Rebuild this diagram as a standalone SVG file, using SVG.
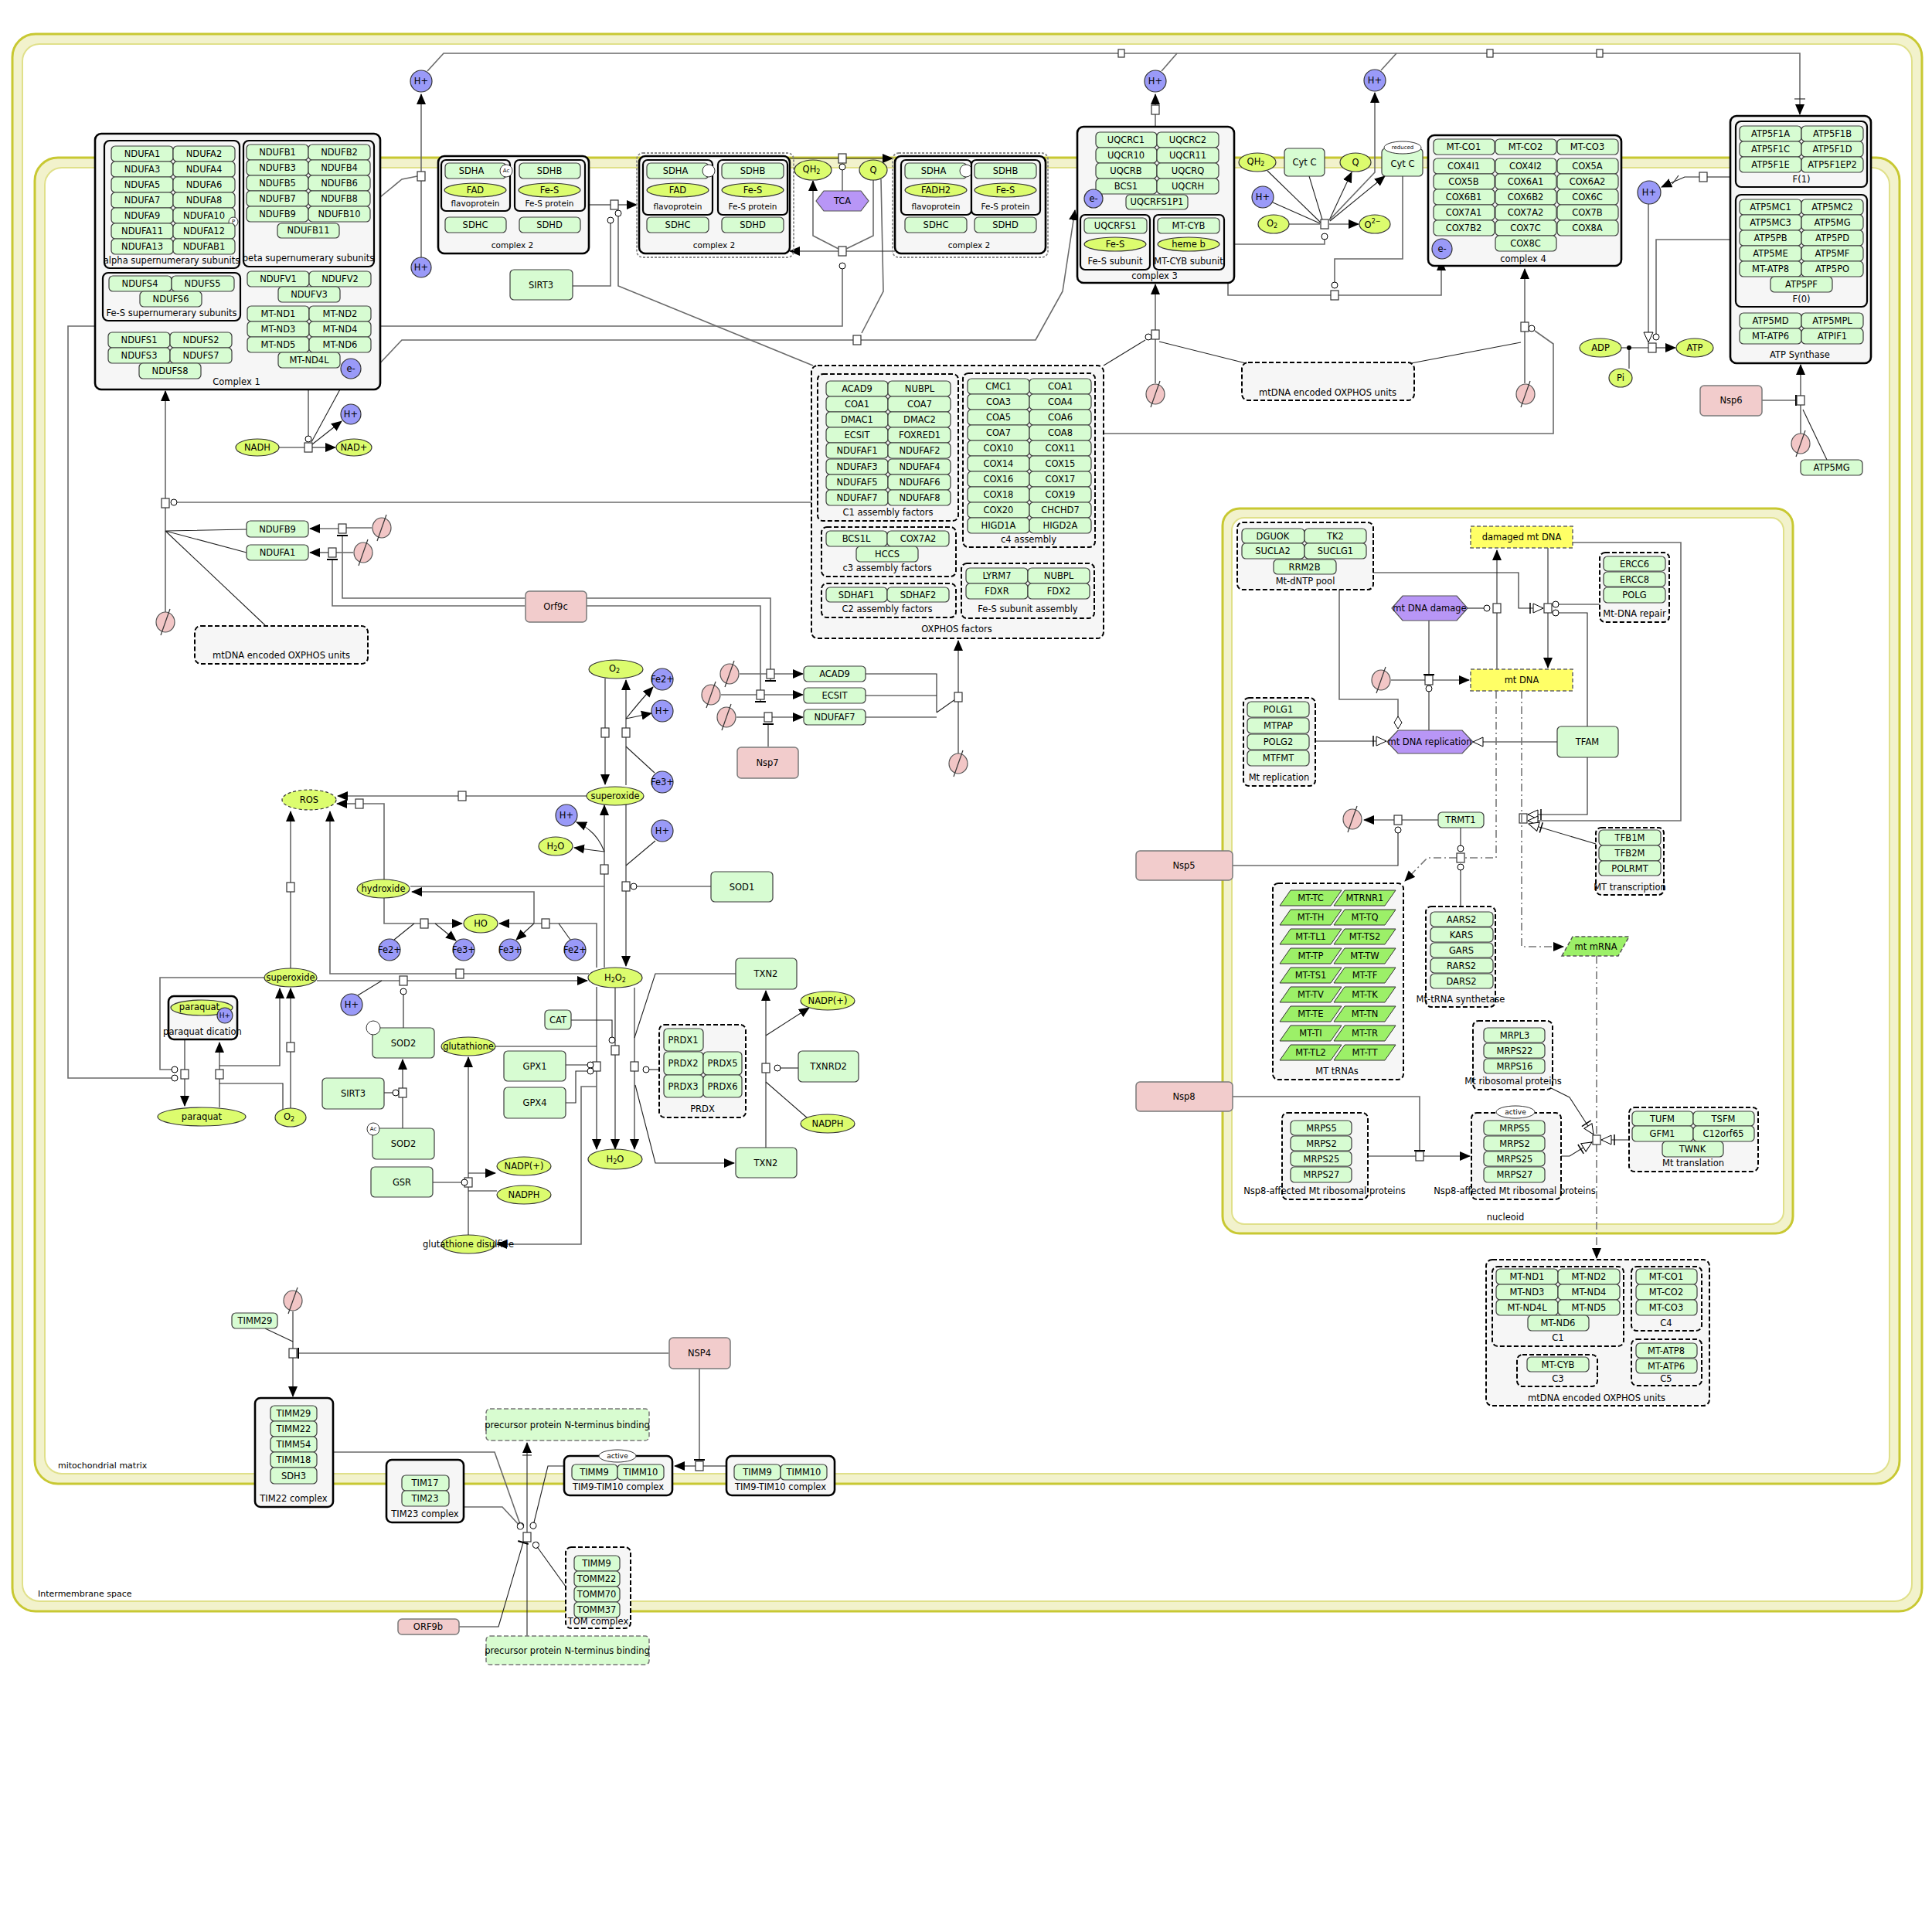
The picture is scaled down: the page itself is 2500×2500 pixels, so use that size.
<svg xmlns="http://www.w3.org/2000/svg" xmlns:xlink="http://www.w3.org/1999/xlink" width="2500" height="2500" viewBox="0 0 2500 2500">
<style>
.m{fill:#d7fcd2;stroke:#3c3c3c;stroke-width:1.2}
.c{fill:#dcfc6e;stroke:#333;stroke-width:1.2}
.i{fill:#9a9af8;stroke:#333;stroke-width:1.2}
.cx{fill:#f6f6f6;stroke:#000;stroke-width:2.6}
.cs{fill:#f6f6f6;stroke:#000;stroke-width:2.2}
.cd{fill:#f6f6f6;stroke:#000;stroke-width:2;stroke-dasharray:6 3}
.cg{fill:none;stroke:#888;stroke-width:1.8;stroke-dasharray:3 2}
.v{fill:#f2cccc;stroke:#7a7a7a;stroke-width:1.5}
.ph{fill:#b896f6;stroke:#555;stroke-width:1.2}
.na{fill:#ffff66;stroke:#666;stroke-width:1.5;stroke-dasharray:5 3}
.tr{fill:#9cf068;stroke:#333;stroke-width:1}
.pp{fill:#d8fcd0;stroke:#777;stroke-width:1.5;stroke-dasharray:6 3}
.sv{fill:#fff;stroke:#333;stroke-width:1}
.t{font-family:"DejaVu Sans","Liberation Sans",sans-serif;font-size:11.5px;text-anchor:middle;dominant-baseline:central;fill:#000}
.s{font-size:10.5px}
.xs{font-size:7px}
.k{font-family:"DejaVu Sans","Liberation Sans",sans-serif;font-size:11px;fill:#000}
.l{fill:none;stroke:#6a6a6a;stroke-width:1.6}
.lb{fill:none;stroke:#222;stroke-width:1.1}
.dd{fill:none;stroke:#777;stroke-width:1.6;stroke-dasharray:10 4 2 4}
.ps{fill:#fff;stroke:#333;stroke-width:1.2}
.cmpo{fill:#f2f2cc;stroke:#c8c832;stroke-width:3}
.cmpi{fill:#fff;stroke:#e0e08a;stroke-width:2}
</style>
<defs>
<marker id="ar" markerWidth="14" markerHeight="14" refX="13" refY="7" orient="auto" markerUnits="userSpaceOnUse"><path d="M0,1 L14,7 L0,13 z" fill="#000"/></marker>
<marker id="ci" markerWidth="10" markerHeight="10" refX="9" refY="5" orient="auto" markerUnits="userSpaceOnUse"><circle cx="5" cy="5" r="4" fill="#fff" stroke="#000" stroke-width="1"/></marker>
<marker id="ba" markerWidth="6" markerHeight="16" refX="3" refY="8" orient="auto" markerUnits="userSpaceOnUse"><path d="M3,1 V15" stroke="#000" stroke-width="2"/></marker>
<marker id="ot" markerWidth="16" markerHeight="14" refX="14" refY="7" orient="auto" markerUnits="userSpaceOnUse"><path d="M1,1 L14,7 L1,13 z" fill="#fff" stroke="#000" stroke-width="1"/></marker>
<marker id="ns" markerWidth="20" markerHeight="16" refX="19" refY="8" orient="auto" markerUnits="userSpaceOnUse"><path d="M6,2 L19,8 L6,14 z" fill="#fff" stroke="#000" stroke-width="1"/><path d="M2,1 V15" stroke="#000" stroke-width="1.5"/></marker>
<marker id="di" markerWidth="18" markerHeight="14" refX="17" refY="7" orient="auto" markerUnits="userSpaceOnUse"><path d="M1,7 L9,2 L17,7 L9,12 z" fill="#fff" stroke="#000" stroke-width="1"/></marker>
<g id="sk"><ellipse rx="12" ry="13" fill="#f2c6c6" stroke="#555" stroke-width="1.2"/><line x1="-6" y1="17" x2="6" y2="-17" stroke="#333" stroke-width="1.2"/></g>
</defs>
<rect x="0" y="0" width="2500" height="2500" fill="#fff"/>

<!-- compartments -->
<g id="intermembrane_space">
<rect class="cmpo" x="16" y="44" width="2471" height="2041" rx="30"/>
<rect class="cmpi" x="29" y="57" width="2445" height="2015" rx="22"/>
<text class="k" x="49" y="2066">Intermembrane space</text>
</g>
<g id="mitochondrial_matrix">
<rect class="cmpo" x="45" y="204" width="2413" height="1716" rx="30"/>
<rect class="cmpi" x="58" y="217" width="2387" height="1690" rx="22"/>
<text class="k" x="75" y="1900">mitochondrial matrix</text>
</g>
<g id="nucleoid">
<rect class="cmpo" x="1582" y="658" width="738" height="938" rx="22"/>
<rect class="cmpi" x="1594" y="670" width="714" height="914" rx="16"/>
<text class="t" x="1948" y="1575">nucleoid</text>
</g>

<!-- connectors -->
<g id="connectors">
<!-- top H+ transport -->
<path class="l" d="M545,333 V122" marker-end="url(#ar)"/>
<path class="l" d="M492,255 L520,232 L540,228"/>
<path class="l" d="M553,92 L574,69 H2329 V148" marker-end="url(#ar)"/>
<path class="lb" d="M2322,128 H2336"/>
<path class="l" d="M1503,92 L1523,69"/>
<path class="l" d="M1787,91 L1807,69"/>
<rect class="ps" x="1447" y="64" width="8" height="10"/>
<rect class="ps" x="1924" y="64" width="8" height="10"/>
<rect class="ps" x="2066" y="64" width="8" height="10"/>
<path class="l" d="M1495,164 V122" marker-end="url(#ar)"/>
<rect class="ps" x="1490" y="136" width="10" height="12"/>
<rect class="ps" x="540" y="222" width="10" height="12"/>
<!-- NADH -->
<path class="lb" d="M361,579 H394"/>
<path class="lb" d="M404,579 H434" marker-end="url(#ar)"/>
<path class="lb" d="M404,575 L442,545" marker-end="url(#ar)"/>
<path class="lb" d="M403,572 L447,491" marker-end="url(#ar)"/>
<path class="lb" d="M399,504 V572" marker-end="url(#ci)"/>
<rect class="ps" x="394" y="573" width="10" height="12"/>
<!-- complex 1 lines -->
<path class="l" d="M492,422 H1090 V340" marker-end="url(#ci)"/>
<path class="l" d="M467,477 H485 L520,440 H1104"/>
<path class="l" d="M1114,440 H1340 L1375,377 L1391,272" marker-end="url(#ar)"/>
<path class="l" d="M1115,431 L1143,377 L1140,232"/>
<rect class="ps" x="1104" y="434" width="10" height="12"/>
<!-- complex 2 -->
<path class="lb" d="M762,265 H790"/>
<path class="lb" d="M800,265 H824" marker-end="url(#ar)"/>
<rect class="ps" x="790" y="259" width="10" height="12"/>
<path class="l" d="M741,370 H790 V281" marker-end="url(#ci)"/>
<path class="l" d="M800,272 V370 L1052,473"/>
<circle cx="800" cy="276" r="4" fill="#fff" stroke="#000"/>
<path class="lb" d="M1022,205 H1085"/>
<path class="lb" d="M1095,205 H1155" marker-end="url(#ar)"/>
<rect class="ps" x="1085" y="199" width="10" height="12"/>
<path class="l" d="M1090,247 V212" marker-end="url(#ci)"/>
<path class="lb" d="M1158,325 H1095"/>
<path class="lb" d="M1085,325 H1022" marker-end="url(#ar)"/>
<rect class="ps" x="1085" y="319" width="10" height="12"/>
<path class="l" d="M1130,232 V305 L1095,322"/>
<path class="l" d="M1085,322 L1052,305 V234" marker-end="url(#ar)"/>
<!-- complex 3 reaction -->
<path class="lb" d="M1640,221 L1709,288"/>
<path class="lb" d="M1694,228 L1711,284"/>
<path class="lb" d="M1647,262 L1708,289"/>
<path class="lb" d="M1668,290 H1708"/>
<path class="lb" d="M1720,285 L1749,223" marker-end="url(#ar)"/>
<path class="l" d="M1720,285 L1779,223 V120" marker-end="url(#ar)"/>
<path class="lb" d="M1721,286 L1792,228" marker-end="url(#ar)"/>
<path class="lb" d="M1720,290 H1758" marker-end="url(#ar)"/>
<rect class="ps" x="1709" y="284" width="10" height="12"/>
<path class="l" d="M1597,316 H1714 V302" marker-end="url(#ci)"/>
<path class="l" d="M1425,265 L1437,274 H1589 V382 H1722"/>
<path class="l" d="M1732,382 H1865 V337" marker-end="url(#ar)"/>
<path class="l" d="M1815,228 V335 H1727 V373" marker-end="url(#ci)"/>
<rect class="ps" x="1722" y="376" width="10" height="12"/>
<!-- complex 3 / 4 assembly -->
<path class="lb" d="M1495,428 V368" marker-end="url(#ar)"/>
<path class="lb" d="M1495,439 V496"/>
<path class="lb" d="M1482,440 L1428,473"/>
<circle cx="1486" cy="436" r="4" fill="#fff" stroke="#000"/>
<path class="lb" d="M1500,442 L1612,470"/>
<rect class="ps" x="1490" y="427" width="10" height="12"/>
<path class="lb" d="M1973,418 V348" marker-end="url(#ar)"/>
<path class="lb" d="M1973,429 V496"/>
<path class="l" d="M1986,428 L2010,445 V561 H1428"/>
<circle cx="1982" cy="425" r="4" fill="#fff" stroke="#000"/>
<path class="lb" d="M1968,443 L1826,470"/>
<rect class="ps" x="1968" y="417" width="10" height="12"/>
<!-- ATP synthase -->
<path class="l" d="M2239,229 H2209"/>
<path class="lb" d="M2199,229 H2180 L2150,242" marker-end="url(#ar)"/>
<path class="lb" d="M2172,227 L2164,238"/>
<rect class="ps" x="2199" y="223" width="10" height="12"/>
<path class="l" d="M2133,264 V443" marker-end="url(#ot)"/>
<path class="l" d="M2239,310 H2143 V440" marker-end="url(#ci)"/>
<path class="l" d="M2098,450 H2133"/>
<path class="l" d="M2108,450 V477"/>
<circle cx="2108" cy="450" r="3" fill="#000"/>
<path class="lb" d="M2143,450 H2168" marker-end="url(#ar)"/>
<rect class="ps" x="2133" y="444" width="10" height="12"/>
<path class="l" d="M2280,518 H2324" marker-end="url(#ba)"/>
<path class="lb" d="M2330,561 V512"/>
<path class="lb" d="M2330,512 V472" marker-end="url(#ar)"/>
<path class="lb" d="M2364,595 L2333,530"/>
<rect class="ps" x="2325" y="512" width="10" height="12"/>
<!-- OXPHOS to complex 1 -->
<path class="lb" d="M1050,650 H221" marker-end="url(#ci)"/>
<path class="lb" d="M214,792 V657"/>
<path class="lb" d="M214,645 V506" marker-end="url(#ar)"/>
<rect class="ps" x="209" y="645" width="10" height="12"/>
<path class="lb" d="M214,687 L319,685 M214,687 L319,715 M214,687 L343,809"/>
<path class="l" d="M481,683 H448"/>
<path class="lb" d="M438,684 H401" marker-end="url(#ar)"/>
<rect class="ps" x="438" y="678" width="10" height="12"/>
<path class="l" d="M457,715 H435"/>
<path class="lb" d="M425,715 H401" marker-end="url(#ar)"/>
<rect class="ps" x="425" y="709" width="10" height="12"/>
<path class="l" d="M679,774 H443 V693" marker-end="url(#ba)"/>
<path class="l" d="M679,784 H430 V724" marker-end="url(#ba)"/>
<path class="l" d="M759,774 H997 V881" marker-end="url(#ba)"/>
<path class="l" d="M759,784 H984 V908" marker-end="url(#ba)"/>
<path class="l" d="M957,872 H992"/>
<path class="lb" d="M1002,872 H1039" marker-end="url(#ar)"/>
<rect class="ps" x="992" y="866" width="10" height="12"/>
<path class="l" d="M933,899 H979"/>
<path class="lb" d="M989,899 H1039" marker-end="url(#ar)"/>
<rect class="ps" x="979" y="893" width="10" height="12"/>
<path class="l" d="M953,928 H989"/>
<path class="lb" d="M999,928 H1039" marker-end="url(#ar)"/>
<rect class="ps" x="989" y="922" width="10" height="12"/>
<path class="l" d="M994,966 V937" marker-end="url(#ba)"/>
<path class="lb" d="M1120,872 H1212 V922 M1120,900 H1212 M1120,928 H1212 M1212,922 L1236,905"/>
<path class="lb" d="M1240,975 V908"/>
<path class="lb" d="M1240,896 V829" marker-end="url(#ar)"/>
<rect class="ps" x="1235" y="896" width="10" height="12"/>
<!-- ROS region -->
<path class="lb" d="M783,878 V942"/>
<path class="lb" d="M783,954 V1015" marker-end="url(#ar)"/>
<rect class="ps" x="778" y="942" width="10" height="12"/>
<path class="lb" d="M810,1016 V954"/>
<path class="lb" d="M810,942 V880" marker-end="url(#ar)"/>
<rect class="ps" x="805" y="942" width="10" height="12"/>
<path class="lb" d="M810,930 Q830,905 845,889" marker-end="url(#ar)"/>
<path class="lb" d="M810,930 L843,923" marker-end="url(#ar)"/>
<path class="lb" d="M847,1000 L810,966"/>
<path class="l" d="M759,1030 H603"/>
<path class="l" d="M593,1030 H437" marker-end="url(#ar)"/>
<rect class="ps" x="593" y="1024" width="10" height="12"/>
<path class="l" d="M497,1138 V1040 H470"/>
<path class="l" d="M460,1040 H436" marker-end="url(#ar)"/>
<rect class="ps" x="460" y="1034" width="10" height="12"/>
<path class="lb" d="M782,1252 V1131"/>
<path class="lb" d="M782,1119 V1042" marker-end="url(#ar)"/>
<rect class="ps" x="777" y="1119" width="10" height="12"/>
<path class="lb" d="M782,1102 Q772,1075 746,1064" marker-end="url(#ar)"/>
<path class="lb" d="M782,1102 L743,1097" marker-end="url(#ar)"/>
<path class="lb" d="M810,1040 V1141"/>
<path class="lb" d="M810,1153 V1250" marker-end="url(#ar)"/>
<rect class="ps" x="805" y="1141" width="10" height="12"/>
<path class="lb" d="M920,1147 H816" marker-end="url(#ci)"/>
<path class="lb" d="M848,1088 L810,1120"/>
<path class="l" d="M782,1147 H531"/>
<path class="l" d="M691,1195 V1154 H533" marker-end="url(#ar)"/>
<path class="l" d="M497,1162 V1195 H544"/>
<path class="l" d="M554,1195 H598" marker-end="url(#ar)"/>
<rect class="ps" x="544" y="1189" width="10" height="12"/>
<path class="lb" d="M536,1195 L510,1216"/>
<path class="lb" d="M563,1195 L590,1217" marker-end="url(#ar)"/>
<path class="l" d="M772,1252 V1195 H711"/>
<path class="l" d="M701,1195 H646" marker-end="url(#ar)"/>
<rect class="ps" x="701" y="1189" width="10" height="12"/>
<path class="lb" d="M691,1195 L668,1216" marker-end="url(#ar)"/>
<path class="lb" d="M723,1195 L738,1216"/>
<path class="l" d="M376,1253 V1154"/>
<path class="l" d="M376,1142 V1050" marker-end="url(#ar)"/>
<rect class="ps" x="371" y="1142" width="10" height="12"/>
<path class="l" d="M762,1260 H600"/>
<path class="l" d="M590,1260 H427 V1050" marker-end="url(#ar)"/>
<rect class="ps" x="590" y="1254" width="10" height="12"/>
<path class="l" d="M410,1269 H517"/>
<path class="l" d="M527,1269 H760" marker-end="url(#ar)"/>
<rect class="ps" x="517" y="1263" width="10" height="12"/>
<path class="lb" d="M522,1330 V1279" marker-end="url(#ci)"/>
<path class="lb" d="M463,1288 L494,1269"/>
<path class="lb" d="M239,1345 V1384"/>
<path class="lb" d="M239,1396 V1431" marker-end="url(#ar)"/>
<rect class="ps" x="234" y="1384" width="10" height="12"/>
<path class="l" d="M342,1265 H207 V1384 H230" marker-end="url(#ci)"/>
<path class="l" d="M123,422 H88 V1395 H230" marker-end="url(#ci)"/>
<path class="lb" d="M284,1433 V1396"/>
<path class="lb" d="M284,1384 V1349" marker-end="url(#ar)"/>
<rect class="ps" x="279" y="1384" width="10" height="12"/>
<path class="lb" d="M284,1379 H362 V1279" marker-end="url(#ar)"/>
<path class="lb" d="M376,1434 V1361"/>
<path class="lb" d="M376,1349 V1279" marker-end="url(#ar)"/>
<rect class="ps" x="371" y="1349" width="10" height="12"/>
<path class="lb" d="M284,1402 H366 V1436"/>
<path class="lb" d="M521,1460 V1420"/>
<path class="lb" d="M521,1408 V1371" marker-end="url(#ar)"/>
<rect class="ps" x="516" y="1408" width="10" height="12"/>
<path class="lb" d="M497,1414 H516" marker-end="url(#ci)"/>
<path class="lb" d="M606,1598 V1536"/>
<path class="lb" d="M606,1524 V1368" marker-end="url(#ar)"/>
<rect class="ps" x="601" y="1524" width="10" height="12"/>
<path class="lb" d="M560,1530 H605" marker-end="url(#ci)"/>
<path class="lb" d="M606,1518 H641" marker-end="url(#ar)"/>
<path class="lb" d="M643,1541 H606"/>
<path class="lb" d="M640,1354 H772"/>
<path class="lb" d="M772,1277 V1374"/>
<path class="lb" d="M772,1386 V1487" marker-end="url(#ar)"/>
<rect class="ps" x="767" y="1374" width="10" height="12"/>
<path class="lb" d="M732,1378 H768" marker-end="url(#ci)"/>
<path class="lb" d="M732,1427 H745 V1386 H768" marker-end="url(#ci)"/>
<path class="l" d="M772,1406 H752 V1610 H643" marker-end="url(#ar)"/>
<path class="lb" d="M738,1320 H792 V1350" marker-end="url(#ci)"/>
<path class="lb" d="M796,1278 V1353"/>
<path class="lb" d="M796,1365 V1487" marker-end="url(#ar)"/>
<rect class="ps" x="791" y="1353" width="10" height="12"/>
<path class="lb" d="M821,1278 V1374"/>
<path class="lb" d="M821,1386 V1487" marker-end="url(#ar)"/>
<rect class="ps" x="816" y="1374" width="10" height="12"/>
<path class="lb" d="M853,1384 H832" marker-end="url(#ci)"/>
<path class="lb" d="M952,1260 H848 L821,1343"/>
<path class="lb" d="M822,1404 L848,1505 H950" marker-end="url(#ar)"/>
<path class="lb" d="M991,1485 V1388"/>
<path class="lb" d="M991,1376 V1282" marker-end="url(#ar)"/>
<rect class="ps" x="986" y="1376" width="10" height="12"/>
<path class="lb" d="M1033,1382 H1002" marker-end="url(#ci)"/>
<path class="lb" d="M991,1340 L1047,1304" marker-end="url(#ar)"/>
<path class="lb" d="M1045,1447 L991,1400"/>
<!-- nucleoid -->
<path class="lb" d="M1899,787 H1928" marker-end="url(#ci)"/>
<path class="l" d="M1937,866 V793"/>
<path class="l" d="M1937,781 V712" marker-end="url(#ar)"/>
<rect class="ps" x="1932" y="781" width="10" height="12"/>
<path class="l" d="M2003,709 V781"/>
<path class="l" d="M2003,793 V864" marker-end="url(#ar)"/>
<rect class="ps" x="1998" y="781" width="10" height="12"/>
<path class="lb" d="M2070,782 H2009" marker-end="url(#ci)"/>
<path class="lb" d="M2054,940 V793 H2009" marker-end="url(#ci)"/>
<path class="lb" d="M1777,741 H1965 V787 H1997" marker-end="url(#ns)"/>
<path class="l" d="M1800,880 H1844"/>
<path class="lb" d="M1854,880 H1901" marker-end="url(#ar)"/>
<rect class="ps" x="1844" y="874" width="10" height="12"/>
<path class="l" d="M1849,803 V873" marker-end="url(#ba)"/>
<path class="l" d="M1849,945 V887" marker-end="url(#ci)"/>
<path class="l" d="M1733,763 V905 H1809 V943" marker-end="url(#di)"/>
<path class="lb" d="M1702,959 H1794" marker-end="url(#ns)"/>
<path class="l" d="M2015,960 H1906" marker-end="url(#ot)"/>
<path class="lb" d="M2054,980 V1054 H1977" marker-end="url(#ns)"/>
<path class="l" d="M2035,702 H2175 V1062 H1977" marker-end="url(#ot)"/>
<path class="lb" d="M2065,1092 L1978,1066" marker-end="url(#ns)"/>
<rect class="ps" x="1966" y="1053" width="10" height="12"/>
<path class="lb" d="M1861,1061 H1814"/>
<path class="lb" d="M1804,1061 H1765" marker-end="url(#ar)"/>
<rect class="ps" x="1804" y="1055" width="10" height="12"/>
<path class="lb" d="M1595,1120 H1809 V1070" marker-end="url(#ci)"/>
<path class="lb" d="M1890,1071 V1102" marker-end="url(#ci)"/>
<path class="lb" d="M1890,1172 V1118" marker-end="url(#ci)"/>
<path class="dd" d="M1936,894 V1110 H1895"/>
<path class="dd" d="M1885,1110 H1847 L1818,1140" marker-end="url(#ar)"/>
<rect class="ps" x="1885" y="1104" width="10" height="12"/>
<path class="dd" d="M1969,894 V1225 H2023" marker-end="url(#ar)"/>
<path class="dd" d="M2066,1237 V1469"/>
<path class="dd" d="M2066,1481 V1628" marker-end="url(#ar)"/>
<path class="l" d="M1595,1419 H1837 V1489" marker-end="url(#ba)"/>
<path class="lb" d="M1770,1496 H1832"/>
<path class="lb" d="M1842,1496 H1902" marker-end="url(#ar)"/>
<rect class="ps" x="1832" y="1490" width="10" height="12"/>
<path class="lb" d="M2020,1496 H2031 L2060,1478" marker-end="url(#ns)"/>
<path class="lb" d="M2007,1408 L2031,1420 L2062,1468" marker-end="url(#ns)"/>
<path class="lb" d="M2108,1475 H2072" marker-end="url(#ns)"/>
<rect class="ps" x="2061" y="1469" width="10" height="12"/>
<!-- TIM -->
<path class="l" d="M379,1697 V1745"/>
<path class="l" d="M379,1757 V1807" marker-end="url(#ar)"/>
<rect class="ps" x="374" y="1745" width="10" height="12"/>
<path class="lb" d="M343,1719 L379,1736"/>
<path class="lb" d="M865,1751 H386" marker-end="url(#ba)"/>
<path class="l" d="M905,1771 V1889" marker-end="url(#ba)"/>
<path class="lb" d="M940,1897 H910"/>
<path class="lb" d="M900,1897 H873" marker-end="url(#ar)"/>
<rect class="ps" x="900" y="1891" width="10" height="12"/>
<path class="lb" d="M682,2117 V1995"/>
<path class="lb" d="M682,1983 V1867" marker-end="url(#ar)"/>
<path class="lb" d="M676,1883 H688"/>
<rect class="ps" x="677" y="1983" width="10" height="12"/>
<path class="l" d="M431,1879 H640 L675,1978" marker-end="url(#ci)"/>
<path class="l" d="M600,1950 H650 L676,1978" marker-end="url(#ci)"/>
<path class="lb" d="M730,1897 H709 L689,1978" marker-end="url(#ci)"/>
<path class="lb" d="M732,2053 L691,1996" marker-end="url(#ci)"/>
<path class="lb" d="M594,2105 H645 L677,1996" marker-end="url(#ba)"/>
</g>

<!-- ================= Complex 1 ================= -->
<g id="complex1">
<rect class="cx" x="123" y="173" width="369" height="331" rx="8"/>
<g id="c1_alpha">
<rect class="cs" x="135" y="182" width="175" height="165" rx="7"/>
<g id="NDUFA1"><rect class="m" x="144" y="189" width="80" height="20" rx="5"/><text class="t" x="184" y="199">NDUFA1</text></g>
<g id="NDUFA2"><rect class="m" x="224" y="189" width="80" height="20" rx="5"/><text class="t" x="264" y="199">NDUFA2</text></g>
<g id="NDUFA3"><rect class="m" x="144" y="209" width="80" height="20" rx="5"/><text class="t" x="184" y="219">NDUFA3</text></g>
<g id="NDUFA4"><rect class="m" x="224" y="209" width="80" height="20" rx="5"/><text class="t" x="264" y="219">NDUFA4</text></g>
<g id="NDUFA5"><rect class="m" x="144" y="229" width="80" height="20" rx="5"/><text class="t" x="184" y="239">NDUFA5</text></g>
<g id="NDUFA6"><rect class="m" x="224" y="229" width="80" height="20" rx="5"/><text class="t" x="264" y="239">NDUFA6</text></g>
<g id="NDUFA7"><rect class="m" x="144" y="249" width="80" height="20" rx="5"/><text class="t" x="184" y="259">NDUFA7</text></g>
<g id="NDUFA8"><rect class="m" x="224" y="249" width="80" height="20" rx="5"/><text class="t" x="264" y="259">NDUFA8</text></g>
<g id="NDUFA9"><rect class="m" x="144" y="269" width="80" height="20" rx="5"/><text class="t" x="184" y="279">NDUFA9</text></g>
<g id="NDUFA10"><rect class="m" x="224" y="269" width="80" height="20" rx="5"/><text class="t" x="264" y="279">NDUFA10</text><circle class="sv" cx="302" cy="287" r="6"/><text class="t xs" x="302" y="287">P</text></g>
<g id="NDUFA11"><rect class="m" x="144" y="289" width="80" height="20" rx="5"/><text class="t" x="184" y="299">NDUFA11</text></g>
<g id="NDUFA12"><rect class="m" x="224" y="289" width="80" height="20" rx="5"/><text class="t" x="264" y="299">NDUFA12</text></g>
<g id="NDUFA13"><rect class="m" x="144" y="309" width="80" height="20" rx="5"/><text class="t" x="184" y="319">NDUFA13</text></g>
<g id="NDUFAB1"><rect class="m" x="224" y="309" width="80" height="20" rx="5"/><text class="t" x="264" y="319">NDUFAB1</text></g>
<text class="t" x="222" y="337">alpha supernumerary subunits</text>
</g>
<g id="c1_beta">
<rect class="cs" x="315" y="182" width="169" height="163" rx="7"/>
<g id="NDUFB1"><rect class="m" x="319" y="187" width="80" height="20" rx="5"/><text class="t" x="359" y="197">NDUFB1</text></g>
<g id="NDUFB2"><rect class="m" x="399" y="187" width="80" height="20" rx="5"/><text class="t" x="439" y="197">NDUFB2</text></g>
<g id="NDUFB3"><rect class="m" x="319" y="207" width="80" height="20" rx="5"/><text class="t" x="359" y="217">NDUFB3</text></g>
<g id="NDUFB4"><rect class="m" x="399" y="207" width="80" height="20" rx="5"/><text class="t" x="439" y="217">NDUFB4</text></g>
<g id="NDUFB5"><rect class="m" x="319" y="227" width="80" height="20" rx="5"/><text class="t" x="359" y="237">NDUFB5</text></g>
<g id="NDUFB6"><rect class="m" x="399" y="227" width="80" height="20" rx="5"/><text class="t" x="439" y="237">NDUFB6</text></g>
<g id="NDUFB7"><rect class="m" x="319" y="247" width="80" height="20" rx="5"/><text class="t" x="359" y="257">NDUFB7</text></g>
<g id="NDUFB8"><rect class="m" x="399" y="247" width="80" height="20" rx="5"/><text class="t" x="439" y="257">NDUFB8</text></g>
<g id="NDUFB9"><rect class="m" x="319" y="267" width="80" height="20" rx="5"/><text class="t" x="359" y="277">NDUFB9</text></g>
<g id="NDUFB10"><rect class="m" x="399" y="267" width="80" height="20" rx="5"/><text class="t" x="439" y="277">NDUFB10</text></g>
<g id="NDUFB11"><rect class="m" x="359" y="289" width="80" height="19" rx="5"/><text class="t" x="399" y="298">NDUFB11</text></g>
<text class="t" x="399" y="334">beta supernumerary subunits</text>
</g>
<g id="c1_fes">
<rect class="cs" x="133" y="353" width="178" height="62" rx="7"/>
<g id="NDUFS4"><rect class="m" x="141" y="357" width="81" height="20" rx="5"/><text class="t" x="181" y="367">NDUFS4</text></g>
<g id="NDUFS5"><rect class="m" x="222" y="357" width="81" height="20" rx="5"/><text class="t" x="262" y="367">NDUFS5</text></g>
<g id="NDUFS6"><rect class="m" x="181" y="377" width="80" height="20" rx="5"/><text class="t" x="221" y="387">NDUFS6</text></g>
<text class="t" x="222" y="405">Fe-S supernumerary subunits</text>
</g>
<g id="NDUFV1"><rect class="m" x="320" y="351" width="80" height="20" rx="5"/><text class="t" x="360" y="361">NDUFV1</text></g>
<g id="NDUFV2"><rect class="m" x="400" y="351" width="80" height="20" rx="5"/><text class="t" x="440" y="361">NDUFV2</text></g>
<g id="NDUFV3"><rect class="m" x="360" y="371" width="80" height="20" rx="5"/><text class="t" x="400" y="381">NDUFV3</text></g>
<g id="MT-ND1_c1"><rect class="m" x="320" y="396" width="80" height="20" rx="5"/><text class="t" x="360" y="406">MT-ND1</text></g>
<g id="MT-ND2_c1"><rect class="m" x="400" y="396" width="80" height="20" rx="5"/><text class="t" x="440" y="406">MT-ND2</text></g>
<g id="MT-ND3_c1"><rect class="m" x="320" y="416" width="80" height="20" rx="5"/><text class="t" x="360" y="426">MT-ND3</text></g>
<g id="MT-ND4_c1"><rect class="m" x="400" y="416" width="80" height="20" rx="5"/><text class="t" x="440" y="426">MT-ND4</text></g>
<g id="MT-ND5_c1"><rect class="m" x="320" y="436" width="80" height="20" rx="5"/><text class="t" x="360" y="446">MT-ND5</text></g>
<g id="MT-ND6_c1"><rect class="m" x="400" y="436" width="80" height="20" rx="5"/><text class="t" x="440" y="446">MT-ND6</text></g>
<g id="MT-ND4L_c1"><rect class="m" x="360" y="456" width="80" height="20" rx="5"/><text class="t" x="400" y="466">MT-ND4L</text></g>
<g id="NDUFS1"><rect class="m" x="140" y="430" width="80" height="20" rx="5"/><text class="t" x="180" y="440">NDUFS1</text></g>
<g id="NDUFS2"><rect class="m" x="220" y="430" width="80" height="20" rx="5"/><text class="t" x="260" y="440">NDUFS2</text></g>
<g id="NDUFS3"><rect class="m" x="140" y="450" width="80" height="20" rx="5"/><text class="t" x="180" y="460">NDUFS3</text></g>
<g id="NDUFS7"><rect class="m" x="220" y="450" width="80" height="20" rx="5"/><text class="t" x="260" y="460">NDUFS7</text></g>
<g id="NDUFS8"><rect class="m" x="180" y="470" width="80" height="20" rx="5"/><text class="t" x="220" y="480">NDUFS8</text></g>
<g id="e_c1"><circle class="i" cx="454" cy="477" r="13"/><text class="t" x="454" y="477">e-</text></g>
<text class="t" x="306" y="494">Complex 1</text>
</g>

<!-- ions / chemicals near complex 1 -->
<g id="Hplus_top1"><circle class="i" cx="545" cy="105" r="14"/><text class="t" x="545" y="105">H+</text></g>
<g id="Hplus_mat1"><circle class="i" cx="545" cy="346" r="13"/><text class="t" x="545" y="346">H+</text></g>
<g id="NADH"><ellipse class="c" cx="333" cy="579" rx="28" ry="11"/><text class="t" x="333" y="579">NADH</text></g>
<g id="NADplus"><ellipse class="c" cx="458" cy="579" rx="23" ry="11"/><text class="t" x="458" y="579">NAD+</text></g>
<g id="Hplus_nad"><circle class="i" cx="454" cy="536" r="13"/><text class="t" x="454" y="536">H+</text></g>

<!-- ================= Complex 2 ================= -->
<g id="complex2a">
<rect class="cx" x="567" y="202" width="195" height="126" rx="8"/>
<g id="c2a_flavo"><rect class="cs" x="571" y="207" width="89" height="66" rx="6"/>
<g id="SDHA_a"><rect class="m" x="576" y="211" width="79" height="20" rx="5"/><text class="t" x="610" y="221">SDHA</text><circle class="sv" cx="655" cy="221" r="8"/><text class="t xs" x="655" y="221">Ac</text></g>
<g id="FAD_a"><ellipse class="c" cx="615" cy="246" rx="40" ry="9"/><text class="t" x="615" y="246">FAD</text></g>
<text class="t s" x="615" y="263">flavoprotein</text></g>
<g id="c2a_fes"><rect class="cs" x="666" y="207" width="91" height="66" rx="6"/>
<g id="SDHB_a"><rect class="m" x="672" y="211" width="79" height="20" rx="5"/><text class="t" x="711" y="221">SDHB</text></g>
<g id="FeS_a"><ellipse class="c" cx="711" cy="246" rx="40" ry="9"/><text class="t" x="711" y="246">Fe-S</text></g>
<text class="t s" x="711" y="263">Fe-S protein</text></g>
<g id="SDHC_a"><rect class="m" x="576" y="281" width="79" height="20" rx="5"/><text class="t" x="615" y="291">SDHC</text></g>
<g id="SDHD_a"><rect class="m" x="672" y="281" width="79" height="20" rx="5"/><text class="t" x="711" y="291">SDHD</text></g>
<text class="t s" x="663" y="317">complex 2</text>
</g>
<g id="complex2b">
<rect class="cg" x="824" y="198" width="203" height="135" rx="8"/>
<rect class="cx" x="827" y="202" width="195" height="126" rx="8"/>
<g id="c2b_flavo"><rect class="cs" x="832" y="207" width="90" height="71" rx="6"/>
<g id="SDHA_b"><rect class="m" x="837" y="211" width="80" height="20" rx="5"/><text class="t" x="874" y="221">SDHA</text><circle class="sv" cx="917" cy="221" r="8"/></g>
<g id="FAD_b"><ellipse class="c" cx="877" cy="246" rx="40" ry="9"/><text class="t" x="877" y="246">FAD</text></g>
<text class="t s" x="877" y="267">flavoprotein</text></g>
<g id="c2b_fes"><rect class="cs" x="929" y="207" width="90" height="71" rx="6"/>
<g id="SDHB_b"><rect class="m" x="934" y="211" width="80" height="20" rx="5"/><text class="t" x="974" y="221">SDHB</text></g>
<g id="FeS_b"><ellipse class="c" cx="974" cy="246" rx="40" ry="9"/><text class="t" x="974" y="246">Fe-S</text></g>
<text class="t s" x="974" y="267">Fe-S protein</text></g>
<g id="SDHC_b"><rect class="m" x="837" y="281" width="80" height="20" rx="5"/><text class="t" x="877" y="291">SDHC</text></g>
<g id="SDHD_b"><rect class="m" x="934" y="281" width="80" height="20" rx="5"/><text class="t" x="974" y="291">SDHD</text></g>
<text class="t s" x="924" y="317">complex 2</text>
</g>
<g id="complex2c">
<rect class="cg" x="1155" y="198" width="201" height="135" rx="8"/>
<rect class="cx" x="1158" y="202" width="195" height="126" rx="8"/>
<g id="c2c_flavo"><rect class="cs" x="1166" y="207" width="91" height="71" rx="6"/>
<g id="SDHA_c"><rect class="m" x="1171" y="211" width="80" height="20" rx="5"/><text class="t" x="1208" y="221">SDHA</text><circle class="sv" cx="1250" cy="221" r="8"/></g>
<g id="FADH2_c"><ellipse class="c" cx="1211" cy="246" rx="40" ry="9"/><text class="t" x="1211" y="246">FADH2</text></g>
<text class="t s" x="1211" y="267">flavoprotein</text></g>
<g id="c2c_fes"><rect class="cs" x="1257" y="207" width="89" height="71" rx="6"/>
<g id="SDHB_c"><rect class="m" x="1261" y="211" width="80" height="20" rx="5"/><text class="t" x="1301" y="221">SDHB</text></g>
<g id="FeS_c"><ellipse class="c" cx="1301" cy="246" rx="40" ry="9"/><text class="t" x="1301" y="246">Fe-S</text></g>
<text class="t s" x="1301" y="267">Fe-S protein</text></g>
<g id="SDHC_c"><rect class="m" x="1171" y="281" width="80" height="20" rx="5"/><text class="t" x="1211" y="291">SDHC</text></g>
<g id="SDHD_c"><rect class="m" x="1261" y="281" width="80" height="20" rx="5"/><text class="t" x="1301" y="291">SDHD</text></g>
<text class="t s" x="1254" y="317">complex 2</text>
</g>
<g id="QH2_c2"><ellipse class="c" cx="1052" cy="220" rx="24" ry="13"/><text class="t" x="1050" y="219">QH<tspan dy="3" font-size="8">2</tspan></text></g>
<g id="Q_c2"><ellipse class="c" cx="1130" cy="220" rx="18" ry="13"/><text class="t" x="1130" y="220">Q</text></g>
<g id="TCA"><polygon class="ph" points="1056,260 1066,247 1114,247 1124,260 1114,273 1066,273"/><text class="t" x="1090" y="260">TCA</text></g>
<g id="SIRT3_top"><rect class="m" x="660" y="349" width="81" height="39" rx="5"/><text class="t" x="700" y="369">SIRT3</text></g>

<!-- ================= Complex 3 ================= -->
<g id="complex3">
<rect class="cx" x="1394" y="164" width="203" height="202" rx="8"/>
<g id="UQCRC1"><rect class="m" x="1418" y="171" width="79" height="20" rx="5"/><text class="t" x="1457" y="181">UQCRC1</text></g>
<g id="UQCRC2"><rect class="m" x="1497" y="171" width="80" height="20" rx="5"/><text class="t" x="1537" y="181">UQCRC2</text></g>
<g id="UQCR10"><rect class="m" x="1418" y="191" width="79" height="20" rx="5"/><text class="t" x="1457" y="201">UQCR10</text></g>
<g id="UQCR11"><rect class="m" x="1497" y="191" width="80" height="20" rx="5"/><text class="t" x="1537" y="201">UQCR11</text></g>
<g id="UQCRB"><rect class="m" x="1418" y="211" width="79" height="20" rx="5"/><text class="t" x="1457" y="221">UQCRB</text></g>
<g id="UQCRQ"><rect class="m" x="1497" y="211" width="80" height="20" rx="5"/><text class="t" x="1537" y="221">UQCRQ</text></g>
<g id="BCS1"><rect class="m" x="1418" y="231" width="79" height="20" rx="5"/><text class="t" x="1457" y="241">BCS1</text></g>
<g id="UQCRH"><rect class="m" x="1497" y="231" width="80" height="20" rx="5"/><text class="t" x="1537" y="241">UQCRH</text></g>
<g id="UQCRFS1P1"><rect class="m" x="1457" y="252" width="80" height="19" rx="5"/><text class="t" x="1497" y="261">UQCRFS1P1</text></g>
<g id="e_c3"><circle class="i" cx="1415" cy="257" r="12"/><text class="t" x="1415" y="257">e-</text></g>
<g id="c3_fes"><rect class="cs" x="1398" y="278" width="90" height="71" rx="6"/>
<g id="UQCRFS1"><rect class="m" x="1403" y="282" width="81" height="20" rx="5"/><text class="t" x="1443" y="292">UQCRFS1</text></g>
<g id="FeS_c3"><ellipse class="c" cx="1443" cy="316" rx="40" ry="9"/><text class="t" x="1443" y="316">Fe-S</text></g>
<text class="t" x="1443" y="338">Fe-S subunit</text></g>
<g id="c3_cyb"><rect class="cs" x="1493" y="278" width="91" height="71" rx="6"/>
<g id="MT-CYB_c3"><rect class="m" x="1498" y="282" width="80" height="20" rx="5"/><text class="t" x="1538" y="292">MT-CYB</text></g>
<g id="hemeb"><ellipse class="c" cx="1538" cy="316" rx="40" ry="9"/><text class="t" x="1538" y="316">heme b</text></g>
<text class="t" x="1538" y="338">MT-CYB subunit</text></g>
<text class="t" x="1494" y="357">complex 3</text>
</g>
<g id="Hplus_top3"><circle class="i" cx="1495" cy="105" r="14"/><text class="t" x="1495" y="105">H+</text></g>
<g id="Hplus_top4"><circle class="i" cx="1779" cy="104" r="14"/><text class="t" x="1779" y="104">H+</text></g>
<g id="QH2_c3"><ellipse class="c" cx="1627" cy="210" rx="24" ry="12"/><text class="t" x="1625" y="209">QH<tspan dy="3" font-size="8">2</tspan></text></g>
<g id="CytC_ox"><rect class="m" x="1662" y="192" width="52" height="36" rx="5"/><text class="t" x="1688" y="210">Cyt C</text></g>
<g id="Q_c3"><ellipse class="c" cx="1754" cy="210" rx="20" ry="12"/><text class="t" x="1754" y="210">Q</text></g>
<g id="CytC_red"><rect class="m" x="1788" y="192" width="53" height="36" rx="5"/><text class="t" x="1815" y="212">Cyt C</text><ellipse class="sv" cx="1815" cy="191" rx="24" ry="8"/><text class="t xs" x="1815" y="191">reduced</text></g>
<g id="Hplus_c3"><circle class="i" cx="1634" cy="255" r="14"/><text class="t" x="1634" y="255">H+</text></g>
<g id="O2_c3"><ellipse class="c" cx="1648" cy="290" rx="20" ry="12"/><text class="t" x="1646" y="289">O<tspan dy="3" font-size="8">2</tspan></text></g>
<g id="O2minus"><ellipse class="c" cx="1779" cy="290" rx="20" ry="12"/><text class="t" x="1776" y="291">O<tspan dy="-5" font-size="8">2−</tspan></text></g>

<!-- ================= Complex 4 ================= -->
<g id="complex4">
<rect class="cx" x="1848" y="175" width="250" height="169" rx="8"/>
<g id="MT-CO1_c4"><rect class="m" x="1855" y="180" width="79" height="20" rx="5"/><text class="t" x="1894" y="190">MT-CO1</text></g>
<g id="MT-CO2_c4"><rect class="m" x="1935" y="180" width="79" height="20" rx="5"/><text class="t" x="1974" y="190">MT-CO2</text></g>
<g id="MT-CO3_c4"><rect class="m" x="2015" y="180" width="79" height="20" rx="5"/><text class="t" x="2054" y="190">MT-CO3</text></g>
<g id="COX4I1"><rect class="m" x="1855" y="205" width="79" height="20" rx="5"/><text class="t" x="1894" y="215">COX4I1</text></g>
<g id="COX4I2"><rect class="m" x="1935" y="205" width="79" height="20" rx="5"/><text class="t" x="1974" y="215">COX4I2</text></g>
<g id="COX5A"><rect class="m" x="2015" y="205" width="79" height="20" rx="5"/><text class="t" x="2054" y="215">COX5A</text></g>
<g id="COX5B"><rect class="m" x="1855" y="225" width="79" height="20" rx="5"/><text class="t" x="1894" y="235">COX5B</text></g>
<g id="COX6A1"><rect class="m" x="1935" y="225" width="79" height="20" rx="5"/><text class="t" x="1974" y="235">COX6A1</text></g>
<g id="COX6A2"><rect class="m" x="2015" y="225" width="79" height="20" rx="5"/><text class="t" x="2054" y="235">COX6A2</text></g>
<g id="COX6B1"><rect class="m" x="1855" y="245" width="79" height="20" rx="5"/><text class="t" x="1894" y="255">COX6B1</text></g>
<g id="COX6B2"><rect class="m" x="1935" y="245" width="79" height="20" rx="5"/><text class="t" x="1974" y="255">COX6B2</text></g>
<g id="COX6C"><rect class="m" x="2015" y="245" width="79" height="20" rx="5"/><text class="t" x="2054" y="255">COX6C</text></g>
<g id="COX7A1"><rect class="m" x="1855" y="265" width="79" height="20" rx="5"/><text class="t" x="1894" y="275">COX7A1</text></g>
<g id="COX7A2_c4"><rect class="m" x="1935" y="265" width="79" height="20" rx="5"/><text class="t" x="1974" y="275">COX7A2</text></g>
<g id="COX7B"><rect class="m" x="2015" y="265" width="79" height="20" rx="5"/><text class="t" x="2054" y="275">COX7B</text></g>
<g id="COX7B2"><rect class="m" x="1855" y="285" width="79" height="20" rx="5"/><text class="t" x="1894" y="295">COX7B2</text></g>
<g id="COX7C"><rect class="m" x="1935" y="285" width="79" height="20" rx="5"/><text class="t" x="1974" y="295">COX7C</text></g>
<g id="COX8A"><rect class="m" x="2015" y="285" width="79" height="20" rx="5"/><text class="t" x="2054" y="295">COX8A</text></g>
<g id="COX8C"><rect class="m" x="1935" y="305" width="79" height="20" rx="5"/><text class="t" x="1974" y="315">COX8C</text></g>
<g id="e_c4"><circle class="i" cx="1866" cy="322" r="13"/><text class="t" x="1866" y="322">e-</text></g>
<text class="t" x="1971" y="335">complex 4</text>
</g>

<!-- ================= ATP synthase ================= -->
<g id="ATP_synthase">
<rect class="cx" x="2239" y="150" width="182" height="320" rx="8"/>
<g id="F1"><rect class="cs" x="2246" y="157" width="170" height="85" rx="7"/>
<g id="ATP5F1A"><rect class="m" x="2251" y="163" width="80" height="20" rx="5"/><text class="t" x="2291" y="173">ATP5F1A</text></g>
<g id="ATP5F1B"><rect class="m" x="2331" y="163" width="80" height="20" rx="5"/><text class="t" x="2371" y="173">ATP5F1B</text></g>
<g id="ATP5F1C"><rect class="m" x="2251" y="183" width="80" height="20" rx="5"/><text class="t" x="2291" y="193">ATP5F1C</text></g>
<g id="ATP5F1D"><rect class="m" x="2331" y="183" width="80" height="20" rx="5"/><text class="t" x="2371" y="193">ATP5F1D</text></g>
<g id="ATP5F1E"><rect class="m" x="2251" y="203" width="80" height="20" rx="5"/><text class="t" x="2291" y="213">ATP5F1E</text></g>
<g id="ATP5F1EP2"><rect class="m" x="2331" y="203" width="80" height="20" rx="5"/><text class="t" x="2371" y="213">ATP5F1EP2</text></g>
<text class="t" x="2331" y="232">F(1)</text></g>
<g id="F0"><rect class="cs" x="2246" y="252" width="170" height="145" rx="7"/>
<g id="ATP5MC1"><rect class="m" x="2251" y="258" width="80" height="20" rx="5"/><text class="t" x="2291" y="268">ATP5MC1</text></g>
<g id="ATP5MC2"><rect class="m" x="2331" y="258" width="80" height="20" rx="5"/><text class="t" x="2371" y="268">ATP5MC2</text></g>
<g id="ATP5MC3"><rect class="m" x="2251" y="278" width="80" height="20" rx="5"/><text class="t" x="2291" y="288">ATP5MC3</text></g>
<g id="ATP5MG_c"><rect class="m" x="2331" y="278" width="80" height="20" rx="5"/><text class="t" x="2371" y="288">ATP5MG</text></g>
<g id="ATP5PB"><rect class="m" x="2251" y="298" width="80" height="20" rx="5"/><text class="t" x="2291" y="308">ATP5PB</text></g>
<g id="ATP5PD"><rect class="m" x="2331" y="298" width="80" height="20" rx="5"/><text class="t" x="2371" y="308">ATP5PD</text></g>
<g id="ATP5ME"><rect class="m" x="2251" y="318" width="80" height="20" rx="5"/><text class="t" x="2291" y="328">ATP5ME</text></g>
<g id="ATP5MF"><rect class="m" x="2331" y="318" width="80" height="20" rx="5"/><text class="t" x="2371" y="328">ATP5MF</text></g>
<g id="MT-ATP8_c"><rect class="m" x="2251" y="338" width="80" height="20" rx="5"/><text class="t" x="2291" y="348">MT-ATP8</text></g>
<g id="ATP5PO"><rect class="m" x="2331" y="338" width="80" height="20" rx="5"/><text class="t" x="2371" y="348">ATP5PO</text></g>
<g id="ATP5PF"><rect class="m" x="2291" y="358" width="80" height="20" rx="5"/><text class="t" x="2331" y="368">ATP5PF</text></g>
<text class="t" x="2331" y="387">F(0)</text></g>
<g id="ATP5MD"><rect class="m" x="2251" y="405" width="80" height="20" rx="5"/><text class="t" x="2291" y="415">ATP5MD</text></g>
<g id="ATP5MPL"><rect class="m" x="2331" y="405" width="80" height="20" rx="5"/><text class="t" x="2371" y="415">ATP5MPL</text></g>
<g id="MT-ATP6_c"><rect class="m" x="2251" y="425" width="80" height="20" rx="5"/><text class="t" x="2291" y="435">MT-ATP6</text></g>
<g id="ATPIF1"><rect class="m" x="2331" y="425" width="80" height="20" rx="5"/><text class="t" x="2371" y="435">ATPIF1</text></g>
<text class="t" x="2329" y="459">ATP Synthase</text>
</g>
<g id="Hplus_atp"><circle class="i" cx="2134" cy="249" r="15"/><text class="t" x="2134" y="249">H+</text></g>
<g id="ADP"><ellipse class="c" cx="2071" cy="450" rx="27" ry="12"/><text class="t" x="2071" y="450">ADP</text></g>
<g id="Pi"><ellipse class="c" cx="2097" cy="489" rx="15" ry="12"/><text class="t" x="2097" y="489">Pi</text></g>
<g id="ATP"><ellipse class="c" cx="2193" cy="450" rx="24" ry="12"/><text class="t" x="2193" y="450">ATP</text></g>
<g id="Nsp6"><rect class="v" x="2200" y="499" width="80" height="39" rx="5"/><text class="t" x="2240" y="518">Nsp6</text></g>
<g id="sink_atp"><use href="#sk" x="2330" y="574"/></g>
<g id="ATP5MG"><rect class="m" x="2330" y="595" width="80" height="20" rx="5"/><text class="t" x="2370" y="605">ATP5MG</text></g>
<g id="sink_c3"><use href="#sk" x="1495" y="510"/></g>
<g id="sink_c4"><use href="#sk" x="1974" y="510"/></g>
<g id="mtDNA_OXPHOS_top"><rect class="cd" x="1607" y="469" width="223" height="49" rx="8"/><text class="t" x="1718" y="508">mtDNA encoded OXPHOS units</text></g>

<!-- ================= OXPHOS factors ================= -->
<g id="OXPHOS_factors">
<rect class="cd" x="1050" y="473" width="378" height="353" rx="8"/>
<g id="C1_assembly"><rect class="cd" x="1058" y="484" width="182" height="190" rx="7"/>
<g id="ACAD9_f"><rect class="m" x="1069" y="493" width="80" height="20" rx="5"/><text class="t" x="1109" y="503">ACAD9</text></g>
<g id="NUBPL_f"><rect class="m" x="1149" y="493" width="81" height="20" rx="5"/><text class="t" x="1190" y="503">NUBPL</text></g>
<g id="COA1_f"><rect class="m" x="1069" y="513" width="80" height="20" rx="5"/><text class="t" x="1109" y="523">COA1</text></g>
<g id="COA7_f"><rect class="m" x="1149" y="513" width="81" height="20" rx="5"/><text class="t" x="1190" y="523">COA7</text></g>
<g id="DMAC1"><rect class="m" x="1069" y="533" width="80" height="20" rx="5"/><text class="t" x="1109" y="543">DMAC1</text></g>
<g id="DMAC2"><rect class="m" x="1149" y="533" width="81" height="20" rx="5"/><text class="t" x="1190" y="543">DMAC2</text></g>
<g id="ECSIT_f"><rect class="m" x="1069" y="553" width="80" height="20" rx="5"/><text class="t" x="1109" y="563">ECSIT</text></g>
<g id="FOXRED1"><rect class="m" x="1149" y="553" width="81" height="20" rx="5"/><text class="t" x="1190" y="563">FOXRED1</text></g>
<g id="NDUFAF1"><rect class="m" x="1069" y="573" width="80" height="20" rx="5"/><text class="t" x="1109" y="583">NDUFAF1</text></g>
<g id="NDUFAF2"><rect class="m" x="1149" y="573" width="81" height="20" rx="5"/><text class="t" x="1190" y="583">NDUFAF2</text></g>
<g id="NDUFAF3"><rect class="m" x="1069" y="594" width="80" height="20" rx="5"/><text class="t" x="1109" y="604">NDUFAF3</text></g>
<g id="NDUFAF4"><rect class="m" x="1149" y="594" width="81" height="20" rx="5"/><text class="t" x="1190" y="604">NDUFAF4</text></g>
<g id="NDUFAF5"><rect class="m" x="1069" y="614" width="80" height="20" rx="5"/><text class="t" x="1109" y="624">NDUFAF5</text></g>
<g id="NDUFAF6"><rect class="m" x="1149" y="614" width="81" height="20" rx="5"/><text class="t" x="1190" y="624">NDUFAF6</text></g>
<g id="NDUFAF7_f"><rect class="m" x="1069" y="634" width="80" height="20" rx="5"/><text class="t" x="1109" y="644">NDUFAF7</text></g>
<g id="NDUFAF8"><rect class="m" x="1149" y="634" width="81" height="20" rx="5"/><text class="t" x="1190" y="644">NDUFAF8</text></g>
<text class="t" x="1149" y="663">C1 assembly factors</text></g>
<g id="c4_assembly"><rect class="cd" x="1246" y="483" width="171" height="225" rx="7"/>
<g id="CMC1"><rect class="m" x="1252" y="490" width="80" height="20" rx="5"/><text class="t" x="1292" y="500">CMC1</text></g>
<g id="COA1_c4"><rect class="m" x="1332" y="490" width="80" height="20" rx="5"/><text class="t" x="1372" y="500">COA1</text></g>
<g id="COA3"><rect class="m" x="1252" y="510" width="80" height="20" rx="5"/><text class="t" x="1292" y="520">COA3</text></g>
<g id="COA4"><rect class="m" x="1332" y="510" width="80" height="20" rx="5"/><text class="t" x="1372" y="520">COA4</text></g>
<g id="COA5"><rect class="m" x="1252" y="530" width="80" height="20" rx="5"/><text class="t" x="1292" y="540">COA5</text></g>
<g id="COA6"><rect class="m" x="1332" y="530" width="80" height="20" rx="5"/><text class="t" x="1372" y="540">COA6</text></g>
<g id="COA7_c4"><rect class="m" x="1252" y="550" width="80" height="20" rx="5"/><text class="t" x="1292" y="560">COA7</text></g>
<g id="COA8"><rect class="m" x="1332" y="550" width="80" height="20" rx="5"/><text class="t" x="1372" y="560">COA8</text></g>
<g id="COX10"><rect class="m" x="1252" y="570" width="80" height="20" rx="5"/><text class="t" x="1292" y="580">COX10</text></g>
<g id="COX11"><rect class="m" x="1332" y="570" width="80" height="20" rx="5"/><text class="t" x="1372" y="580">COX11</text></g>
<g id="COX14"><rect class="m" x="1252" y="590" width="80" height="20" rx="5"/><text class="t" x="1292" y="600">COX14</text></g>
<g id="COX15"><rect class="m" x="1332" y="590" width="80" height="20" rx="5"/><text class="t" x="1372" y="600">COX15</text></g>
<g id="COX16"><rect class="m" x="1252" y="610" width="80" height="20" rx="5"/><text class="t" x="1292" y="620">COX16</text></g>
<g id="COX17"><rect class="m" x="1332" y="610" width="80" height="20" rx="5"/><text class="t" x="1372" y="620">COX17</text></g>
<g id="COX18"><rect class="m" x="1252" y="630" width="80" height="20" rx="5"/><text class="t" x="1292" y="640">COX18</text></g>
<g id="COX19"><rect class="m" x="1332" y="630" width="80" height="20" rx="5"/><text class="t" x="1372" y="640">COX19</text></g>
<g id="COX20"><rect class="m" x="1252" y="650" width="80" height="20" rx="5"/><text class="t" x="1292" y="660">COX20</text></g>
<g id="CHCHD7"><rect class="m" x="1332" y="650" width="80" height="20" rx="5"/><text class="t" x="1372" y="660">CHCHD7</text></g>
<g id="HIGD1A"><rect class="m" x="1252" y="670" width="80" height="20" rx="5"/><text class="t" x="1292" y="680">HIGD1A</text></g>
<g id="HIGD2A"><rect class="m" x="1332" y="670" width="80" height="20" rx="5"/><text class="t" x="1372" y="680">HIGD2A</text></g>
<text class="t" x="1331" y="698">c4 assembly</text></g>
<g id="c3_assembly"><rect class="cd" x="1063" y="682" width="174" height="64" rx="7"/>
<g id="BCS1L"><rect class="m" x="1069" y="687" width="79" height="20" rx="5"/><text class="t" x="1108" y="697">BCS1L</text></g>
<g id="COX7A2_f"><rect class="m" x="1148" y="687" width="80" height="20" rx="5"/><text class="t" x="1188" y="697">COX7A2</text></g>
<g id="HCCS"><rect class="m" x="1108" y="707" width="80" height="20" rx="5"/><text class="t" x="1148" y="717">HCCS</text></g>
<text class="t" x="1148" y="735">c3 assembly factors</text></g>
<g id="C2_assembly"><rect class="cd" x="1063" y="755" width="174" height="44" rx="7"/>
<g id="SDHAF1"><rect class="m" x="1069" y="760" width="79" height="19" rx="5"/><text class="t" x="1108" y="770">SDHAF1</text></g>
<g id="SDHAF2"><rect class="m" x="1148" y="760" width="80" height="19" rx="5"/><text class="t" x="1188" y="770">SDHAF2</text></g>
<text class="t" x="1148" y="788">C2 assembly factors</text></g>
<g id="FeS_assembly"><rect class="cd" x="1244" y="729" width="172" height="71" rx="7"/>
<g id="LYRM7"><rect class="m" x="1250" y="735" width="80" height="20" rx="5"/><text class="t" x="1290" y="745">LYRM7</text></g>
<g id="NUBPL_fes"><rect class="m" x="1330" y="735" width="80" height="20" rx="5"/><text class="t" x="1370" y="745">NUBPL</text></g>
<g id="FDXR"><rect class="m" x="1250" y="755" width="80" height="20" rx="5"/><text class="t" x="1290" y="765">FDXR</text></g>
<g id="FDX2"><rect class="m" x="1330" y="755" width="80" height="20" rx="5"/><text class="t" x="1370" y="765">FDX2</text></g>
<text class="t" x="1330" y="788">Fe-S subunit assembly</text></g>
<text class="t" x="1238" y="814">OXPHOS factors</text>
</g>

<!-- left middle -->
<g id="sink_c1"><use href="#sk" x="214" y="805"/></g>
<g id="NDUFB9_free"><rect class="m" x="319" y="674" width="80" height="21" rx="5"/><text class="t" x="359" y="685">NDUFB9</text></g>
<g id="NDUFA1_free"><rect class="m" x="319" y="705" width="80" height="20" rx="5"/><text class="t" x="359" y="715">NDUFA1</text></g>
<g id="sink_b9"><use href="#sk" x="494" y="683"/></g>
<g id="sink_a1"><use href="#sk" x="470" y="715"/></g>
<g id="mtDNA_OXPHOS_left"><rect class="cd" x="252" y="810" width="224" height="49" rx="8"/><text class="t" x="364" y="848">mtDNA encoded OXPHOS units</text></g>
<g id="Orf9c"><rect class="v" x="680" y="765" width="79" height="40" rx="5"/><text class="t" x="719" y="785">Orf9c</text></g>
<g id="sink_acad9"><use href="#sk" x="944" y="872"/></g>
<g id="sink_ecsit"><use href="#sk" x="920" y="899"/></g>
<g id="sink_ndufaf7"><use href="#sk" x="940" y="928"/></g>
<g id="ACAD9"><rect class="m" x="1040" y="862" width="80" height="20" rx="5"/><text class="t" x="1080" y="872">ACAD9</text></g>
<g id="ECSIT"><rect class="m" x="1040" y="890" width="80" height="20" rx="5"/><text class="t" x="1080" y="900">ECSIT</text></g>
<g id="NDUFAF7"><rect class="m" x="1040" y="918" width="80" height="20" rx="5"/><text class="t" x="1080" y="928">NDUFAF7</text></g>
<g id="Nsp7"><rect class="v" x="954" y="967" width="79" height="40" rx="5"/><text class="t" x="993" y="987">Nsp7</text></g>
<g id="sink_oxphos"><use href="#sk" x="1240" y="988"/></g>

<!-- ================= ROS region ================= -->
<g id="O2_top"><ellipse class="c" cx="797" cy="866" rx="35" ry="12"/><text class="t" x="795" y="865">O<tspan dy="3" font-size="8">2</tspan></text></g>
<g id="Fe2_top"><circle class="i" cx="857" cy="879" r="14"/><text class="t" x="857" y="879">Fe2+</text></g>
<g id="Hplus_fe"><circle class="i" cx="857" cy="920" r="14"/><text class="t" x="857" y="920">H+</text></g>
<g id="Fe3_top"><circle class="i" cx="857" cy="1012" r="14"/><text class="t" x="857" y="1012">Fe3+</text></g>
<g id="superoxide_top"><ellipse class="c" cx="796" cy="1030" rx="37" ry="12"/><text class="t" x="796" y="1030">superoxide</text></g>
<g id="ROS"><ellipse cx="400" cy="1035" rx="35" ry="13" fill="#dcfc6e" stroke="#333" stroke-width="1.2" stroke-dasharray="4 3"/><text class="t" x="400" y="1035">ROS</text></g>
<g id="Hplus_r1"><circle class="i" cx="733" cy="1055" r="14"/><text class="t" x="733" y="1055">H+</text></g>
<g id="H2O_r"><ellipse class="c" cx="719" cy="1095" rx="22" ry="12"/><text class="t" x="719" y="1095">H<tspan dy="3" font-size="8">2</tspan><tspan dy="-3">O</tspan></text></g>
<g id="Hplus_r2"><circle class="i" cx="857" cy="1075" r="14"/><text class="t" x="857" y="1075">H+</text></g>
<g id="SOD1"><rect class="m" x="920" y="1128" width="80" height="39" rx="5"/><text class="t" x="960" y="1148">SOD1</text></g>
<g id="hydroxide"><ellipse class="c" cx="496" cy="1150" rx="34" ry="12"/><text class="t" x="496" y="1150">hydroxide</text></g>
<g id="HO"><ellipse class="c" cx="622" cy="1195" rx="22" ry="12"/><text class="t" x="622" y="1195">HO</text></g>
<g id="Fe2_a"><circle class="i" cx="504" cy="1229" r="14"/><text class="t" x="504" y="1229">Fe2+</text></g>
<g id="Fe3_a"><circle class="i" cx="600" cy="1229" r="14"/><text class="t" x="600" y="1229">Fe3+</text></g>
<g id="Fe3_b"><circle class="i" cx="660" cy="1229" r="14"/><text class="t" x="660" y="1229">Fe3+</text></g>
<g id="Fe2_b"><circle class="i" cx="744" cy="1229" r="14"/><text class="t" x="744" y="1229">Fe2+</text></g>
<g id="H2O2"><ellipse class="c" cx="796" cy="1265" rx="35" ry="13"/><text class="t" x="796" y="1265">H<tspan dy="3" font-size="8">2</tspan><tspan dy="-3">O</tspan><tspan dy="3" font-size="8">2</tspan></text></g>
<g id="superoxide_bot"><ellipse class="c" cx="376" cy="1265" rx="34" ry="12"/><text class="t" x="376" y="1265">superoxide</text></g>
<g id="Hplus_sod"><circle class="i" cx="455" cy="1300" r="14"/><text class="t" x="455" y="1300">H+</text></g>
<g id="paraquat_dication"><rect class="cx" x="218" y="1289" width="89" height="56" rx="7"/>
<g id="paraquat_in"><ellipse class="c" cx="261" cy="1304" rx="40" ry="10"/><text class="t" x="258" y="1303">paraquat</text></g>
<g id="Hplus_pq"><circle class="i" cx="291" cy="1314" r="10"/><text class="t xs" x="291" y="1314" style="font-size:9px">H+</text></g>
<text class="t" x="262" y="1335">paraquat dication</text></g>
<g id="paraquat"><ellipse class="c" cx="261" cy="1445" rx="57" ry="12"/><text class="t" x="261" y="1445">paraquat</text></g>
<g id="O2_pq"><ellipse class="c" cx="376" cy="1446" rx="20" ry="12"/><text class="t" x="374" y="1445">O<tspan dy="3" font-size="8">2</tspan></text></g>
<g id="SOD2"><rect class="m" x="482" y="1330" width="80" height="39" rx="5"/><text class="t" x="522" y="1350">SOD2</text><circle class="sv" cx="483" cy="1330" r="9"/></g>
<g id="SIRT3_ros"><rect class="m" x="417" y="1395" width="80" height="40" rx="5"/><text class="t" x="457" y="1415">SIRT3</text></g>
<g id="SOD2_ac"><rect class="m" x="482" y="1460" width="80" height="40" rx="5"/><text class="t" x="522" y="1480">SOD2</text><circle class="sv" cx="483" cy="1461" r="8"/><text class="t xs" x="483" y="1461">Ac</text></g>
<g id="glutathione"><ellipse class="c" cx="606" cy="1354" rx="35" ry="12"/><text class="t" x="606" y="1354">glutathione</text></g>
<g id="GPX1"><rect class="m" x="652" y="1360" width="80" height="39" rx="5"/><text class="t" x="692" y="1380">GPX1</text></g>
<g id="GPX4"><rect class="m" x="652" y="1407" width="80" height="40" rx="5"/><text class="t" x="692" y="1427">GPX4</text></g>
<g id="CAT"><rect class="m" x="705" y="1307" width="34" height="25" rx="5"/><text class="t" x="722" y="1320">CAT</text></g>
<g id="H2O_bot"><ellipse class="c" cx="796" cy="1500" rx="35" ry="13"/><text class="t" x="796" y="1500">H<tspan dy="3" font-size="8">2</tspan><tspan dy="-3">O</tspan></text></g>
<g id="GSR"><rect class="m" x="480" y="1510" width="80" height="39" rx="5"/><text class="t" x="520" y="1530">GSR</text></g>
<g id="NADPplus_g"><ellipse class="c" cx="678" cy="1509" rx="35" ry="12"/><text class="t" x="678" y="1509">NADP(+)</text></g>
<g id="NADPH_g"><ellipse class="c" cx="678" cy="1546" rx="35" ry="12"/><text class="t" x="678" y="1546">NADPH</text></g>
<g id="glutathione_disulfide"><ellipse class="c" cx="606" cy="1610" rx="35" ry="12"/><text class="t" x="606" y="1610">glutathione disulfide</text></g>
<g id="PRDX"><rect class="cd" x="853" y="1326" width="112" height="120" rx="7"/>
<g id="PRDX1"><rect class="m" x="859" y="1331" width="51" height="29" rx="5"/><text class="t" x="884" y="1346">PRDX1</text></g>
<g id="PRDX2"><rect class="m" x="859" y="1361" width="51" height="30" rx="5"/><text class="t" x="884" y="1376">PRDX2</text></g>
<g id="PRDX5"><rect class="m" x="910" y="1361" width="50" height="30" rx="5"/><text class="t" x="935" y="1376">PRDX5</text></g>
<g id="PRDX3"><rect class="m" x="859" y="1391" width="51" height="29" rx="5"/><text class="t" x="884" y="1406">PRDX3</text></g>
<g id="PRDX6"><rect class="m" x="910" y="1391" width="50" height="29" rx="5"/><text class="t" x="935" y="1406">PRDX6</text></g>
<text class="t" x="909" y="1435">PRDX</text></g>
<g id="TXN2_top"><rect class="m" x="952" y="1240" width="79" height="40" rx="5"/><text class="t" x="991" y="1260">TXN2</text></g>
<g id="TXN2_bot"><rect class="m" x="952" y="1485" width="79" height="39" rx="5"/><text class="t" x="991" y="1505">TXN2</text></g>
<g id="TXNRD2"><rect class="m" x="1033" y="1360" width="78" height="40" rx="5"/><text class="t" x="1072" y="1380">TXNRD2</text></g>
<g id="NADPplus_t"><ellipse class="c" cx="1071" cy="1295" rx="35" ry="12"/><text class="t" x="1071" y="1295">NADP(+)</text></g>
<g id="NADPH_t"><ellipse class="c" cx="1071" cy="1454" rx="35" ry="12"/><text class="t" x="1071" y="1454">NADPH</text></g>

<!-- ================= Nucleoid ================= -->
<g id="Mt_dNTP_pool"><rect class="cd" x="1601" y="676" width="176" height="87" rx="7"/>
<g id="DGUOK"><rect class="m" x="1607" y="684" width="81" height="19" rx="5"/><text class="t" x="1647" y="694">DGUOK</text></g>
<g id="TK2"><rect class="m" x="1688" y="684" width="80" height="19" rx="5"/><text class="t" x="1728" y="694">TK2</text></g>
<g id="SUCLA2"><rect class="m" x="1607" y="703" width="81" height="20" rx="5"/><text class="t" x="1647" y="713">SUCLA2</text></g>
<g id="SUCLG1"><rect class="m" x="1688" y="703" width="80" height="20" rx="5"/><text class="t" x="1728" y="713">SUCLG1</text></g>
<g id="RRM2B"><rect class="m" x="1648" y="724" width="81" height="19" rx="5"/><text class="t" x="1688" y="734">RRM2B</text></g>
<text class="t" x="1689" y="752">Mt-dNTP pool</text></g>
<g id="damaged_mtDNA"><rect class="na" x="1903" y="681" width="132" height="28"/><text class="t" x="1969" y="695">damaged mt DNA</text></g>
<g id="mtDNA"><rect class="na" x="1903" y="866" width="132" height="28"/><text class="t" x="1969" y="880">mt DNA</text></g>
<g id="MtDNA_repair"><rect class="cd" x="2070" y="715" width="90" height="90" rx="7"/>
<g id="ERCC6"><rect class="m" x="2075" y="720" width="80" height="19" rx="5"/><text class="t" x="2115" y="730">ERCC6</text></g>
<g id="ERCC8"><rect class="m" x="2075" y="740" width="80" height="19" rx="5"/><text class="t" x="2115" y="750">ERCC8</text></g>
<g id="POLG"><rect class="m" x="2075" y="760" width="80" height="20" rx="5"/><text class="t" x="2115" y="770">POLG</text></g>
<text class="t" x="2115" y="794">Mt-DNA repair</text></g>
<g id="mtDNA_damage"><polygon class="ph" points="1801,787 1815,771 1885,771 1899,787 1885,803 1815,803"/><text class="t" x="1850" y="787">mt DNA damage</text></g>
<g id="sink_mtdna"><use href="#sk" x="1787" y="880"/></g>
<g id="mtDNA_replication"><polygon class="ph" points="1795,960 1809,945 1892,945 1906,960 1892,975 1809,975"/><text class="t" x="1850" y="960">mt DNA replication</text></g>
<g id="Mt_replication"><rect class="cd" x="1609" y="903" width="93" height="114" rx="7"/>
<g id="POLG1"><rect class="m" x="1614" y="908" width="80" height="20" rx="5"/><text class="t" x="1654" y="918">POLG1</text></g>
<g id="MTPAP"><rect class="m" x="1614" y="929" width="80" height="20" rx="5"/><text class="t" x="1654" y="939">MTPAP</text></g>
<g id="POLG2"><rect class="m" x="1614" y="950" width="80" height="20" rx="5"/><text class="t" x="1654" y="960">POLG2</text></g>
<g id="MTFMT"><rect class="m" x="1614" y="971" width="80" height="20" rx="5"/><text class="t" x="1654" y="981">MTFMT</text></g>
<text class="t" x="1655" y="1006">Mt replication</text></g>
<g id="TFAM"><rect class="m" x="2015" y="940" width="79" height="40" rx="5"/><text class="t" x="2054" y="960">TFAM</text></g>
<g id="MT_transcription"><rect class="cd" x="2065" y="1071" width="88" height="87" rx="7"/>
<g id="TFB1M"><rect class="m" x="2069" y="1074" width="80" height="20" rx="5"/><text class="t" x="2109" y="1084">TFB1M</text></g>
<g id="TFB2M"><rect class="m" x="2069" y="1094" width="80" height="20" rx="5"/><text class="t" x="2109" y="1104">TFB2M</text></g>
<g id="POLRMT"><rect class="m" x="2069" y="1114" width="80" height="19" rx="5"/><text class="t" x="2109" y="1124">POLRMT</text></g>
<text class="t" x="2109" y="1148">MT transcription</text></g>
<g id="sink_trmt"><use href="#sk" x="1750" y="1060"/></g>
<g id="TRMT1"><rect class="m" x="1861" y="1051" width="59" height="20" rx="5"/><text class="t" x="1890" y="1061">TRMT1</text></g>
<g id="Nsp5"><rect class="v" x="1470" y="1101" width="125" height="38" rx="5"/><text class="t" x="1532" y="1120">Nsp5</text></g>
<g id="Nsp8"><rect class="v" x="1470" y="1400" width="125" height="38" rx="5"/><text class="t" x="1532" y="1419">Nsp8</text></g>
<g id="MT_tRNAs"><rect class="cd" x="1647" y="1143" width="169" height="254" rx="7"/>
<g id="MT-TC"><polygon class="tr" points="1656,1172 1670,1152 1736,1152 1722,1172"/><text class="t" x="1696" y="1162">MT-TC</text></g>
<g id="MTRNR1"><polygon class="tr" points="1726,1172 1740,1152 1806,1152 1792,1172"/><text class="t" x="1766" y="1162">MTRNR1</text></g>
<g id="MT-TH"><polygon class="tr" points="1656,1197 1670,1177 1736,1177 1722,1197"/><text class="t" x="1696" y="1187">MT-TH</text></g>
<g id="MT-TQ"><polygon class="tr" points="1726,1197 1740,1177 1806,1177 1792,1197"/><text class="t" x="1766" y="1187">MT-TQ</text></g>
<g id="MT-TL1"><polygon class="tr" points="1656,1222 1670,1202 1736,1202 1722,1222"/><text class="t" x="1696" y="1212">MT-TL1</text></g>
<g id="MT-TS2"><polygon class="tr" points="1726,1222 1740,1202 1806,1202 1792,1222"/><text class="t" x="1766" y="1212">MT-TS2</text></g>
<g id="MT-TP"><polygon class="tr" points="1656,1247 1670,1227 1736,1227 1722,1247"/><text class="t" x="1696" y="1237">MT-TP</text></g>
<g id="MT-TW"><polygon class="tr" points="1726,1247 1740,1227 1806,1227 1792,1247"/><text class="t" x="1766" y="1237">MT-TW</text></g>
<g id="MT-TS1"><polygon class="tr" points="1656,1272 1670,1252 1736,1252 1722,1272"/><text class="t" x="1696" y="1262">MT-TS1</text></g>
<g id="MT-TF"><polygon class="tr" points="1726,1272 1740,1252 1806,1252 1792,1272"/><text class="t" x="1766" y="1262">MT-TF</text></g>
<g id="MT-TV"><polygon class="tr" points="1656,1297 1670,1277 1736,1277 1722,1297"/><text class="t" x="1696" y="1287">MT-TV</text></g>
<g id="MT-TK"><polygon class="tr" points="1726,1297 1740,1277 1806,1277 1792,1297"/><text class="t" x="1766" y="1287">MT-TK</text></g>
<g id="MT-TE"><polygon class="tr" points="1656,1322 1670,1302 1736,1302 1722,1322"/><text class="t" x="1696" y="1312">MT-TE</text></g>
<g id="MT-TN"><polygon class="tr" points="1726,1322 1740,1302 1806,1302 1792,1322"/><text class="t" x="1766" y="1312">MT-TN</text></g>
<g id="MT-TI"><polygon class="tr" points="1656,1347 1670,1327 1736,1327 1722,1347"/><text class="t" x="1696" y="1337">MT-TI</text></g>
<g id="MT-TR"><polygon class="tr" points="1726,1347 1740,1327 1806,1327 1792,1347"/><text class="t" x="1766" y="1337">MT-TR</text></g>
<g id="MT-TL2"><polygon class="tr" points="1656,1372 1670,1352 1736,1352 1722,1372"/><text class="t" x="1696" y="1362">MT-TL2</text></g>
<g id="MT-TT"><polygon class="tr" points="1726,1372 1740,1352 1806,1352 1792,1372"/><text class="t" x="1766" y="1362">MT-TT</text></g>
<text class="t" x="1730" y="1386">MT tRNAs</text></g>
<g id="Mt_tRNA_synthetase"><rect class="cd" x="1845" y="1173" width="90" height="130" rx="7"/>
<g id="AARS2"><rect class="m" x="1851" y="1180" width="81" height="19" rx="5"/><text class="t" x="1891" y="1190">AARS2</text></g>
<g id="KARS"><rect class="m" x="1851" y="1200" width="81" height="19" rx="5"/><text class="t" x="1891" y="1210">KARS</text></g>
<g id="GARS"><rect class="m" x="1851" y="1220" width="81" height="19" rx="5"/><text class="t" x="1891" y="1230">GARS</text></g>
<g id="RARS2"><rect class="m" x="1851" y="1240" width="81" height="19" rx="5"/><text class="t" x="1891" y="1250">RARS2</text></g>
<g id="DARS2"><rect class="m" x="1851" y="1260" width="81" height="19" rx="5"/><text class="t" x="1891" y="1270">DARS2</text></g>
<text class="t" x="1890" y="1293">Mt-tRNA synthetase</text></g>
<g id="mt_mRNA"><polygon points="2021,1237 2035,1212 2108,1212 2094,1237" fill="#9cf068" stroke="#555" stroke-width="1.5" stroke-dasharray="5 3"/><text class="t" x="2065" y="1225">mt mRNA</text></g>
<g id="Mt_ribosomal_proteins"><rect class="cd" x="1906" y="1321" width="103" height="89" rx="7"/>
<g id="MRPL3"><rect class="m" x="1920" y="1330" width="79" height="19" rx="5"/><text class="t" x="1960" y="1340">MRPL3</text></g>
<g id="MRPS22"><rect class="m" x="1920" y="1350" width="79" height="19" rx="5"/><text class="t" x="1960" y="1360">MRPS22</text></g>
<g id="MRPS16"><rect class="m" x="1920" y="1370" width="79" height="19" rx="5"/><text class="t" x="1960" y="1380">MRPS16</text></g>
<text class="t" x="1958" y="1399">Mt ribosomal proteins</text></g>
<g id="Nsp8_affected_1"><rect class="cd" x="1659" y="1440" width="111" height="112" rx="7"/>
<g id="MRPS5_1"><rect class="m" x="1670" y="1450" width="79" height="19" rx="5"/><text class="t" x="1710" y="1460">MRPS5</text></g>
<g id="MRPS2_1"><rect class="m" x="1670" y="1470" width="79" height="19" rx="5"/><text class="t" x="1710" y="1480">MRPS2</text></g>
<g id="MRPS25_1"><rect class="m" x="1670" y="1490" width="79" height="19" rx="5"/><text class="t" x="1710" y="1500">MRPS25</text></g>
<g id="MRPS27_1"><rect class="m" x="1670" y="1510" width="79" height="20" rx="5"/><text class="t" x="1710" y="1520">MRPS27</text></g>
<text class="t" x="1714" y="1541">Nsp8-affected Mt ribosomal proteins</text></g>
<g id="Nsp8_affected_2"><rect class="cd" x="1904" y="1440" width="116" height="112" rx="7"/>
<g id="MRPS5_2"><rect class="m" x="1920" y="1450" width="79" height="19" rx="5"/><text class="t" x="1960" y="1460">MRPS5</text></g>
<g id="MRPS2_2"><rect class="m" x="1920" y="1470" width="79" height="19" rx="5"/><text class="t" x="1960" y="1480">MRPS2</text></g>
<g id="MRPS25_2"><rect class="m" x="1920" y="1490" width="79" height="19" rx="5"/><text class="t" x="1960" y="1500">MRPS25</text></g>
<g id="MRPS27_2"><rect class="m" x="1920" y="1510" width="79" height="20" rx="5"/><text class="t" x="1960" y="1520">MRPS27</text></g>
<ellipse class="sv" cx="1961" cy="1439" rx="25" ry="8"/><text class="t xs" x="1961" y="1439" style="font-size:9px">active</text>
<text class="t" x="1960" y="1541">Nsp8-affected Mt ribosomal proteins</text></g>
<g id="Mt_translation"><rect class="cd" x="2108" y="1433" width="167" height="83" rx="7"/>
<g id="TUFM"><rect class="m" x="2112" y="1438" width="79" height="19" rx="5"/><text class="t" x="2151" y="1448">TUFM</text></g>
<g id="TSFM"><rect class="m" x="2191" y="1438" width="79" height="19" rx="5"/><text class="t" x="2230" y="1448">TSFM</text></g>
<g id="GFM1"><rect class="m" x="2112" y="1457" width="79" height="20" rx="5"/><text class="t" x="2151" y="1467">GFM1</text></g>
<g id="C12orf65"><rect class="m" x="2191" y="1457" width="79" height="20" rx="5"/><text class="t" x="2230" y="1467">C12orf65</text></g>
<g id="TWNK"><rect class="m" x="2151" y="1477" width="79" height="20" rx="5"/><text class="t" x="2190" y="1487">TWNK</text></g>
<text class="t" x="2191" y="1505">Mt translation</text></g>

<!-- mtDNA encoded OXPHOS units bottom right -->
<g id="mtDNA_OXPHOS_br"><rect class="cd" x="1923" y="1630" width="289" height="189" rx="8"/>
<g id="C1_mt"><rect class="cd" x="1931" y="1639" width="170" height="103" rx="7"/>
<g id="MT-ND1"><rect class="m" x="1936" y="1642" width="80" height="20" rx="5"/><text class="t" x="1976" y="1652">MT-ND1</text></g>
<g id="MT-ND2"><rect class="m" x="2016" y="1642" width="80" height="20" rx="5"/><text class="t" x="2056" y="1652">MT-ND2</text></g>
<g id="MT-ND3"><rect class="m" x="1936" y="1662" width="80" height="20" rx="5"/><text class="t" x="1976" y="1672">MT-ND3</text></g>
<g id="MT-ND4"><rect class="m" x="2016" y="1662" width="80" height="20" rx="5"/><text class="t" x="2056" y="1672">MT-ND4</text></g>
<g id="MT-ND4L"><rect class="m" x="1936" y="1682" width="80" height="20" rx="5"/><text class="t" x="1976" y="1692">MT-ND4L</text></g>
<g id="MT-ND5"><rect class="m" x="2016" y="1682" width="80" height="20" rx="5"/><text class="t" x="2056" y="1692">MT-ND5</text></g>
<g id="MT-ND6"><rect class="m" x="1977" y="1702" width="79" height="20" rx="5"/><text class="t" x="2016" y="1712">MT-ND6</text></g>
<text class="t" x="2016" y="1731">C1</text></g>
<g id="C4_mt"><rect class="cd" x="2111" y="1639" width="91" height="83" rx="7"/>
<g id="MT-CO1"><rect class="m" x="2117" y="1642" width="79" height="20" rx="5"/><text class="t" x="2156" y="1652">MT-CO1</text></g>
<g id="MT-CO2"><rect class="m" x="2117" y="1662" width="79" height="20" rx="5"/><text class="t" x="2156" y="1672">MT-CO2</text></g>
<g id="MT-CO3"><rect class="m" x="2117" y="1682" width="79" height="20" rx="5"/><text class="t" x="2156" y="1692">MT-CO3</text></g>
<text class="t" x="2156" y="1712">C4</text></g>
<g id="C3_mt"><rect class="cd" x="1963" y="1753" width="104" height="41" rx="7"/>
<g id="MT-CYB"><rect class="m" x="1976" y="1756" width="80" height="19" rx="5"/><text class="t" x="2016" y="1766">MT-CYB</text></g>
<text class="t" x="2016" y="1784">C3</text></g>
<g id="C5_mt"><rect class="cd" x="2111" y="1733" width="91" height="60" rx="7"/>
<g id="MT-ATP8"><rect class="m" x="2117" y="1738" width="79" height="19" rx="5"/><text class="t" x="2156" y="1748">MT-ATP8</text></g>
<g id="MT-ATP6"><rect class="m" x="2117" y="1758" width="79" height="19" rx="5"/><text class="t" x="2156" y="1768">MT-ATP6</text></g>
<text class="t" x="2156" y="1784">C5</text></g>
<text class="t" x="2066" y="1809">mtDNA encoded OXPHOS units</text>
</g>

<!-- ================= TIM / TOM ================= -->
<g id="sink_tim"><use href="#sk" x="379" y="1683"/></g>
<g id="TIMM29_free"><rect class="m" x="300" y="1699" width="59" height="20" rx="5"/><text class="t" x="330" y="1709">TIMM29</text></g>
<g id="NSP4"><rect class="v" x="866" y="1731" width="79" height="40" rx="5"/><text class="t" x="905" y="1751">NSP4</text></g>
<g id="TIM22_complex"><rect class="cx" x="330" y="1809" width="101" height="141" rx="7"/>
<g id="TIMM29"><rect class="m" x="350" y="1819" width="60" height="20" rx="5"/><text class="t" x="380" y="1829">TIMM29</text></g>
<g id="TIMM22"><rect class="m" x="350" y="1839" width="60" height="20" rx="5"/><text class="t" x="380" y="1849">TIMM22</text></g>
<g id="TIMM54"><rect class="m" x="350" y="1859" width="60" height="20" rx="5"/><text class="t" x="380" y="1869">TIMM54</text></g>
<g id="TIMM18"><rect class="m" x="350" y="1879" width="60" height="20" rx="5"/><text class="t" x="380" y="1889">TIMM18</text></g>
<g id="SDH3"><rect class="m" x="350" y="1899" width="60" height="21" rx="5"/><text class="t" x="380" y="1910">SDH3</text></g>
<text class="t" x="380" y="1939">TIM22 complex</text></g>
<g id="TIM23_complex"><rect class="cx" x="500" y="1889" width="100" height="81" rx="7"/>
<g id="TIM17"><rect class="m" x="520" y="1909" width="61" height="20" rx="5"/><text class="t" x="550" y="1919">TIM17</text></g>
<g id="TIM23"><rect class="m" x="520" y="1929" width="61" height="20" rx="5"/><text class="t" x="550" y="1939">TIM23</text></g>
<text class="t" x="550" y="1959">TIM23 complex</text></g>
<g id="precursor_top"><rect class="pp" x="629" y="1823" width="211" height="41" rx="5"/><text class="t" x="734" y="1844">precursor protein N-terminus binding</text></g>
<g id="precursor_bot"><rect class="pp" x="629" y="2117" width="211" height="37" rx="5"/><text class="t" x="734" y="2136">precursor protein N-terminus binding</text></g>
<g id="TIM9_TIM10_active"><rect class="cx" x="730" y="1884" width="140" height="51" rx="7"/>
<ellipse class="sv" cx="799" cy="1884" rx="24" ry="8"/><text class="t xs" x="799" y="1884" style="font-size:9px">active</text>
<g id="TIMM9_a"><rect class="m" x="740" y="1895" width="59" height="20" rx="5"/><text class="t" x="769" y="1905">TIMM9</text></g>
<g id="TIMM10_a"><rect class="m" x="799" y="1895" width="60" height="20" rx="5"/><text class="t" x="829" y="1905">TIMM10</text></g>
<text class="t" x="800" y="1924">TIM9-TIM10 complex</text></g>
<g id="TIM9_TIM10"><rect class="cx" x="940" y="1884" width="140" height="51" rx="7"/>
<g id="TIMM9_b"><rect class="m" x="950" y="1895" width="60" height="20" rx="5"/><text class="t" x="980" y="1905">TIMM9</text></g>
<g id="TIMM10_b"><rect class="m" x="1010" y="1895" width="60" height="20" rx="5"/><text class="t" x="1040" y="1905">TIMM10</text></g>
<text class="t" x="1010" y="1924">TIM9-TIM10 complex</text></g>
<g id="TOM_complex"><rect class="cd" x="732" y="2002" width="84" height="105" rx="7"/>
<g id="TIMM9_t"><rect class="m" x="743" y="2013" width="59" height="20" rx="5"/><text class="t" x="772" y="2023">TIMM9</text></g>
<g id="TOMM22"><rect class="m" x="743" y="2033" width="59" height="20" rx="5"/><text class="t" x="772" y="2043">TOMM22</text></g>
<g id="TOMM70"><rect class="m" x="743" y="2053" width="59" height="20" rx="5"/><text class="t" x="772" y="2063">TOMM70</text></g>
<g id="TOMM37"><rect class="m" x="743" y="2073" width="59" height="20" rx="5"/><text class="t" x="772" y="2083">TOMM37</text></g>
<text class="t" x="774" y="2098">TOM complex</text></g>
<g id="ORF9b"><rect class="v" x="515" y="2095" width="79" height="20" rx="5"/><text class="t" x="554" y="2105">ORF9b</text></g>
</svg>
